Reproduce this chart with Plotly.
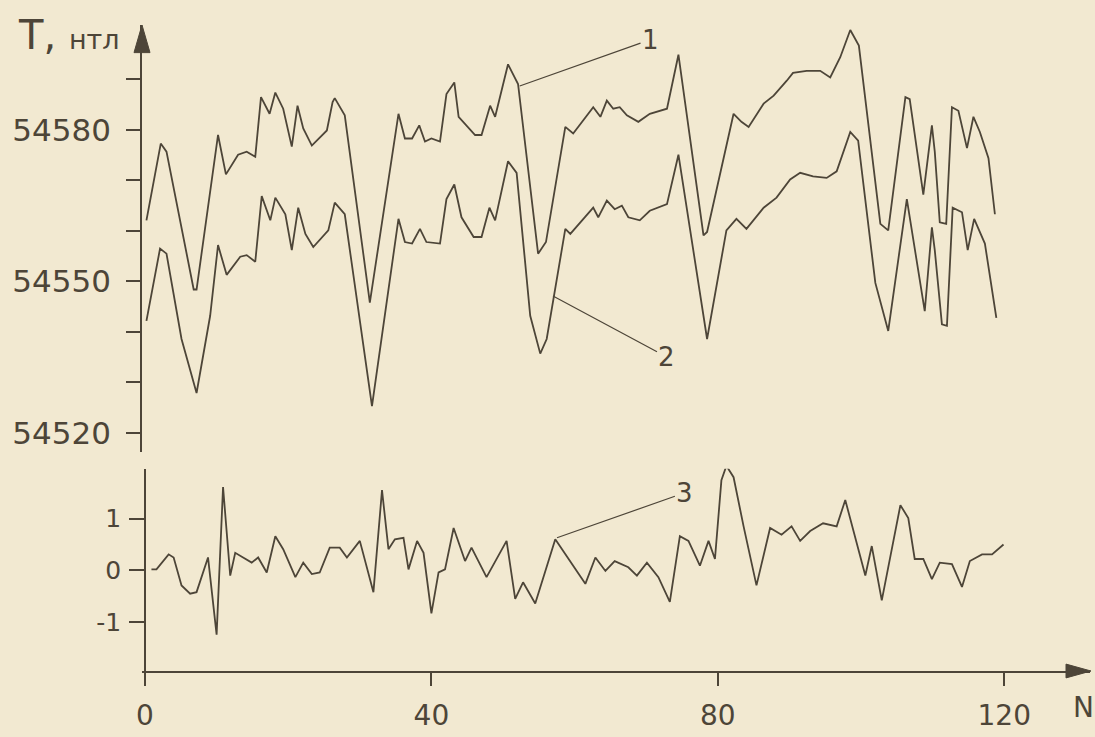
import plotly.graph_objects as go

# ---- data ----
# curve 1: total field, nT
n1 = [0.2, 2.2, 3.0, 6.8, 7.2, 10.2, 11.3, 13.0, 14.2, 15.4, 16.2, 17.4, 18.2, 19.3, 20.5, 21.3, 22.1, 23.3,
      25.4, 26.2, 26.5, 27.9, 31.4, 35.4, 36.3, 37.3, 38.3, 39.1, 40.0, 41.2, 42.1, 43.2, 43.8, 44.9, 46.1,
      47.0, 48.2, 48.9, 50.7, 52.1, 54.9, 56.0, 58.7, 59.8, 62.6, 63.6, 64.5, 65.4, 66.3, 67.3, 68.9, 70.5,
      72.9, 74.5, 78.0, 78.5, 82.2, 83.3, 84.3, 86.4, 87.8, 89.6, 90.5, 92.4, 94.3, 95.7, 97.1, 98.5, 99.7,
      102.7, 103.8, 106.2, 106.8, 108.7, 109.9, 110.3, 111.0, 111.9, 112.7, 113.6, 114.8, 115.7, 116.6,
      117.8, 118.7]
t1 = [54562.1, 54577.3, 54575.7, 54548.4, 54548.4, 54579.0, 54571.2, 54575.1, 54575.7, 54574.7, 54586.5,
      54583.2, 54587.4, 54584.2, 54576.7, 54584.8, 54580.3, 54576.9, 54579.9, 54585.5, 54586.3, 54582.9,
      54545.8, 54583.2, 54578.3, 54578.3, 54580.9, 54577.7, 54578.3, 54577.7, 54587.1, 54589.4, 54582.6,
      54580.9, 54579.0, 54579.0, 54584.8, 54582.6, 54593.0, 54589.1, 54555.5, 54557.8, 54580.6, 54579.3,
      54584.5, 54582.6, 54585.8, 54584.2, 54584.5, 54582.9, 54581.6, 54583.2, 54584.2, 54594.9, 54559.1,
      54559.8, 54583.2, 54581.6, 54580.6, 54585.2, 54586.8, 54589.7, 54591.3, 54591.7, 54591.7, 54590.4,
      54594.4, 54599.8, 54596.7, 54561.4, 54560.1, 54586.5, 54586.1, 54567.2, 54580.9, 54575.7, 54561.7,
      54561.4, 54584.5, 54583.8, 54576.4, 54582.6, 54579.6, 54574.4, 54563.3]

# curve 2
n2 = [0.2, 2.1, 3.0, 5.1, 7.2, 9.1, 10.2, 11.4, 13.3, 14.2, 15.4, 16.3, 17.5, 18.2, 19.6, 20.5, 21.4, 22.4,
      23.5, 25.6, 26.5, 27.9, 31.7, 35.4, 36.3, 37.3, 38.4, 39.3, 41.2, 42.1, 43.2, 44.2, 45.9, 47.0, 48.1,
      48.9, 50.7, 51.9, 53.8, 55.2, 56.1, 58.7, 59.4, 62.6, 63.3, 64.5, 65.6, 66.6, 67.5, 69.1, 70.5, 72.9,
      74.5, 78.5, 81.2, 82.6, 84.0, 86.4, 88.2, 90.1, 91.5, 93.3, 95.2, 96.6, 98.5, 99.6, 102.0, 103.8,
      106.4, 108.9, 109.9, 110.3, 111.3, 112.0, 112.8, 114.1, 114.9, 115.8, 117.3, 118.9]
t2 = [54542.2, 54556.5, 54555.5, 54538.6, 54527.9, 54543.2, 54557.2, 54551.3, 54554.9, 54555.2, 54553.9,
      54566.9, 54562.1, 54566.6, 54563.3, 54556.2, 54564.6, 54559.4, 54556.8, 54560.1, 54565.6, 54563.3,
      54525.3, 54562.4, 54557.8, 54557.5, 54560.4, 54557.8, 54557.5, 54566.3, 54569.2, 54562.7, 54558.8,
      54558.8, 54564.6, 54562.1, 54573.8, 54571.5, 54543.2, 54535.7, 54538.6, 54560.4, 54559.4, 54564.6,
      54562.7, 54566.0, 54564.3, 54565.0, 54562.7, 54562.1, 54564.0, 54565.3, 54575.1, 54538.6, 54560.1,
      54562.4, 54560.4, 54564.6, 54566.6, 54570.2, 54571.5, 54570.8, 54570.5, 54571.8, 54579.6, 54577.9,
      54549.7, 54540.2, 54566.3, 54544.1, 54560.7, 54556.2, 54541.5, 54541.2, 54564.6, 54563.7, 54556.2,
      54562.4, 54557.5, 54542.8]

# curve 3: difference, nT
n3 = [0.9, 1.6, 3.3, 4.0, 5.1, 6.3, 7.2, 8.8, 10.0, 10.9, 11.9, 12.6, 13.7, 14.9, 15.8, 17.0, 18.2, 19.3,
      21.0, 22.1, 23.3, 24.4, 25.8, 27.2, 28.2, 30.0, 31.9, 33.1, 34.0, 34.9, 36.1, 36.8, 38.0, 38.9, 40.0,
      41.0, 41.9, 43.1, 44.7, 45.6, 47.7, 50.5, 51.7, 52.8, 54.5, 57.3, 61.5, 62.9, 64.3, 65.6, 67.5, 68.7,
      70.1, 71.7, 73.3, 74.7, 75.9, 77.5, 78.7, 79.6, 80.5, 81.2, 82.2, 83.6, 85.4, 87.3, 88.9, 90.3, 91.5,
      92.9, 94.7, 96.6, 97.8, 100.6, 101.5, 102.9, 105.5, 106.6, 107.5, 108.7, 109.9, 111.0, 112.7, 114.1,
      115.2, 116.9, 118.3, 119.9]
d3 = [0.02, 0.02, 0.31, 0.25, -0.29, -0.45, -0.42, 0.25, -1.24, 1.61, -0.10, 0.34, 0.25, 0.15, 0.25, -0.04,
      0.66, 0.41, -0.13, 0.15, -0.07, -0.04, 0.44, 0.44, 0.25, 0.57, -0.42, 1.55, 0.41, 0.60, 0.63, 0.02,
      0.57, 0.34, -0.83, -0.04, 0.02, 0.82, 0.18, 0.44, -0.13, 0.57, -0.55, -0.23, -0.64, 0.60, -0.26, 0.25,
      -0.01, 0.18, 0.06, -0.10, 0.15, -0.13, -0.61, 0.66, 0.57, 0.09, 0.57, 0.22, 1.74, 2.02, 1.80, 0.85,
      -0.29, 0.82, 0.69, 0.85, 0.57, 0.76, 0.91, 0.85, 1.36, -0.10, 0.47, -0.58, 1.26, 1.01, 0.22, 0.22,
      -0.17, 0.15, 0.12, -0.32, 0.18, 0.31, 0.31, 0.50]

x_ticks = [0, 40, 80, 120]
x_ticktext = ["0", "40", "80", "120"]
top_ticks = [54520, 54530, 54540, 54550, 54560, 54570, 54580, 54590]
top_ticktext = ["54520", "", "", "54550", "", "", "54580", ""]
low_ticks = [-1, 0, 1]
low_ticktext = ["-1", "0", "1"]

# ---- style ----
INK = "#4d4538"
PAPER = "#f2e9d1"
FONT = "DejaVu Sans"

W, H = 1095, 737
L, R, T, B = 142, 5, 25, 57
PW, PH = W - L - R, H - T - B

def py(px_y):  # pixel y -> paper y
    return (H - B - px_y) / PH

def pxx(px_x):  # pixel x -> paper x
    return (px_x - L) / PW

fig = go.Figure()
line = dict(color=INK, width=1.8)
fig.add_trace(go.Scatter(x=n1, y=t1, mode="lines", line=line, xaxis="x", yaxis="y", showlegend=False))
fig.add_trace(go.Scatter(x=n2, y=t2, mode="lines", line=line, xaxis="x", yaxis="y", showlegend=False))
fig.add_trace(go.Scatter(x=n3, y=d3, mode="lines", line=line, xaxis="x", yaxis="y2", showlegend=False))

fig.update_layout(
    width=W, height=H,
    margin=dict(l=L, r=R, t=T, b=B),
    paper_bgcolor=PAPER, plot_bgcolor=PAPER,
    font=dict(family=FONT, color=INK),
    xaxis=dict(range=[-0.42, 131.98], anchor="y2", showgrid=False, zeroline=False,
               showline=True, linecolor=INK, linewidth=1.8,
               tickmode="array", tickvals=x_ticks, ticktext=x_ticktext,
               ticks="outside", ticklen=13, tickwidth=1.6, tickcolor=INK,
               tickfont=dict(size=28, color=INK), ticklabelstandoff=5),
    yaxis=dict(domain=[py(458), 1.0], range=[54516.21, 54600.78], anchor="x",
               showgrid=False, zeroline=False, showline=True, linecolor=INK, linewidth=1.8,
               tickmode="array", tickvals=top_ticks, ticktext=top_ticktext,
               ticks="outside", ticklen=14, tickwidth=1.6, tickcolor=INK,
               tickfont=dict(size=31, color=INK), ticklabelstandoff=9),
    yaxis2=dict(domain=[0.0, py(475)], range=[-1.943, 1.962], anchor="free", position=pxx(145),
                showgrid=False, zeroline=False, showline=True, linecolor=INK, linewidth=1.8,
                tickmode="array", tickvals=low_ticks, ticktext=low_ticktext,
                ticks="outside", ticklen=15, tickwidth=1.6, tickcolor=INK,
                tickfont=dict(size=25, color=INK), ticklabelstandoff=3),
)

# arrowheads of the axes
fig.add_shape(type="path", xref="paper", yref="paper",
              path=f"M {pxx(134)},{py(53)} L {pxx(142)},{py(25)} L {pxx(150)},{py(53)} Z",
              fillcolor=INK, line=dict(color=INK, width=1))
fig.add_shape(type="path", xref="paper", yref="paper",
              path=f"M {pxx(1066)},{py(673)} L {pxx(1091)},{py(680)} L {pxx(1066)},{py(687)} Z",
              fillcolor=INK, line=dict(color=INK, width=1))

# axis titles
fig.add_annotation(xref="paper", yref="paper", x=pxx(16), y=py(35), xanchor="left", yanchor="middle",
                   text="T, <span style='font-size:27px'>нтл</span>", showarrow=False,
                   font=dict(size=40, color=INK, family=FONT))
fig.add_annotation(xref="paper", yref="paper", x=pxx(1071), y=py(717), xanchor="left", yanchor="middle",
                   text="N", showarrow=False, font=dict(size=28, color=INK, family=FONT))

# curve labels with leader lines
lab = dict(size=26, color=INK, family=FONT)
fig.add_annotation(x=52.33, y=54588.7, xref="x", yref="y", ax=70.6, ay=54597.9, axref="x", ayref="y",
                   text="1", showarrow=True, arrowhead=0, arrowwidth=1.2, arrowcolor=INK, font=lab)
fig.add_annotation(x=56.98, y=54547.1, xref="x", yref="y", ax=72.9, ay=54535.0, axref="x", ayref="y",
                   text="2", showarrow=True, arrowhead=0, arrowwidth=1.2, arrowcolor=INK, font=lab)
fig.add_annotation(x=57.54, y=0.63, xref="x", yref="y2", ax=75.4, ay=1.50, axref="x", ayref="y2",
                   text="3", showarrow=True, arrowhead=0, arrowwidth=1.2, arrowcolor=INK, font=lab)

fig.write_html("out.html", config={"displayModeBar": False},
               post_script="document.body.style.margin='0';document.body.style.background='%s';" % PAPER)
